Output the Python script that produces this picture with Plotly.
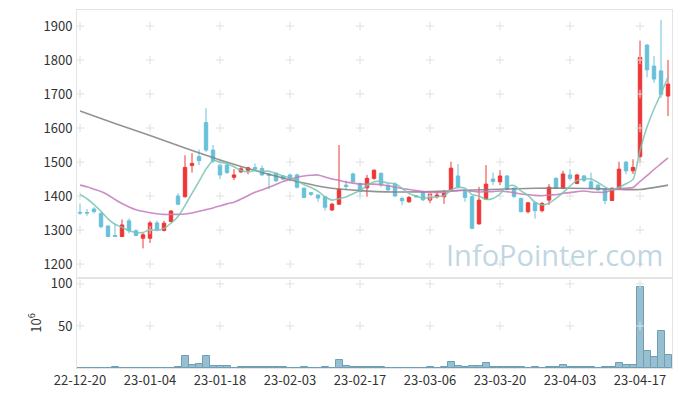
import plotly.graph_objects as go
from plotly.subplots import make_subplots

# ---------------- data ----------------
months = [
    ("22-12", [20, 21, 22, 23, 26, 27, 28, 29]),
    ("23-01", [2, 3, 4, 5, 6, 9, 10, 11, 12, 13, 16, 17, 18, 19, 20, 25, 26, 27, 30, 31]),
    ("23-02", [1, 2, 3, 6, 7, 8, 9, 10, 13, 14, 15, 16, 17, 20, 21, 22, 23, 24, 27, 28]),
    ("23-03", [2, 3, 6, 7, 8, 9, 10, 13, 14, 15, 16, 17, 20, 21, 22, 23, 24, 27, 28, 29, 30, 31]),
    ("23-04", [3, 4, 5, 6, 7, 10, 11, 12, 13, 14, 17, 18, 19, 20, 21]),
]
dates = [f"{m}-{d:02d}" for m, days in months for d in days]

opens = [1352, 1352, 1362, 1349, 1312, 1284, 1281, 1327, 1298, 1276,
         1276, 1321, 1299, 1325, 1400, 1398, 1490, 1516, 1616, 1535,
         1491, 1491, 1455, 1471, 1476, 1484, 1481, 1465, 1467, 1459,
         1462, 1462, 1423, 1410, 1403, 1398, 1359, 1376, 1432, 1465,
         1437, 1424, 1452, 1467, 1432, 1435, 1393, 1383, 1401, 1413,
         1388, 1398, 1398, 1418, 1459, 1413, 1398, 1318, 1391, 1450,
         1442, 1459, 1423, 1393, 1354, 1380, 1357, 1388, 1452, 1423,
         1462, 1437, 1459, 1442, 1432, 1420, 1387, 1423, 1500, 1474,
         1516, 1844, 1782, 1768, 1694]
highs = [1378, 1362, 1367, 1352, 1313, 1318, 1331, 1334, 1302, 1291,
         1327, 1327, 1327, 1358, 1408, 1520, 1526, 1537, 1658, 1550,
         1496, 1497, 1479, 1486, 1486, 1496, 1490, 1467, 1470, 1462,
         1466, 1466, 1425, 1411, 1405, 1400, 1380, 1550, 1446, 1469,
         1440, 1462, 1478, 1469, 1434, 1440, 1398, 1400, 1403, 1415,
         1408, 1413, 1418, 1501, 1494, 1416, 1400, 1427, 1491, 1469,
         1476, 1462, 1425, 1395, 1383, 1383, 1383, 1435, 1455, 1474,
         1479, 1465, 1462, 1469, 1435, 1422, 1425, 1501, 1502, 1508,
         1857, 1846, 1812, 1918, 1800]
lows = [1345, 1342, 1349, 1305, 1280, 1280, 1280, 1290, 1282, 1246,
        1262, 1300, 1296, 1323, 1373, 1396, 1469, 1491, 1530, 1497,
        1449, 1465, 1447, 1468, 1464, 1476, 1460, 1420, 1441, 1447,
        1443, 1422, 1394, 1400, 1383, 1357, 1356, 1374, 1417, 1440,
        1396, 1398, 1448, 1426, 1415, 1398, 1373, 1380, 1396, 1385,
        1379, 1393, 1377, 1416, 1423, 1383, 1302, 1316, 1389, 1432,
        1432, 1418, 1394, 1352, 1349, 1334, 1352, 1374, 1420, 1420,
        1445, 1435, 1441, 1420, 1416, 1376, 1385, 1420, 1464, 1465,
        1498, 1749, 1733, 1688, 1635]
closes = [1350, 1350, 1354, 1310, 1281, 1281, 1315, 1298, 1284, 1286,
          1321, 1302, 1320, 1356, 1376, 1484, 1496, 1504, 1535, 1503,
          1462, 1469, 1462, 1480, 1483, 1479, 1462, 1461, 1445, 1450,
          1450, 1426, 1396, 1405, 1394, 1367, 1376, 1420, 1428, 1442,
          1413, 1452, 1476, 1433, 1418, 1400, 1386, 1396, 1398, 1389,
          1406, 1403, 1408, 1482, 1427, 1396, 1305, 1388, 1435, 1443,
          1459, 1420, 1399, 1354, 1380, 1357, 1378, 1426, 1423, 1465,
          1452, 1462, 1446, 1423, 1418, 1387, 1423, 1479, 1474, 1484,
          1808, 1771, 1744, 1699, 1729]

# moving averages
ma_short = [1405, 1392, 1375, 1355, 1333, 1317, 1308, 1298, 1293, 1293,
            1301, 1299, 1305, 1320, 1340, 1372, 1408, 1443, 1479, 1504,
            1500, 1495, 1486, 1475, 1471, 1475, 1473, 1473, 1466, 1459,
            1454, 1446, 1433, 1425, 1414, 1398, 1388, 1392, 1397, 1407,
            1416, 1431, 1442, 1443, 1438, 1436, 1423, 1407, 1400, 1394,
            1395, 1398, 1401, 1418, 1425, 1423, 1404, 1400, 1390, 1393,
            1406, 1429, 1431, 1415, 1402, 1382, 1374, 1379, 1393, 1410,
            1429, 1446, 1450, 1450, 1440, 1427, 1419, 1426, 1436, 1449,
            1534, 1603, 1656, 1701, 1750]
ma_mid = [1432, 1427, 1420, 1413, 1403, 1390, 1378, 1368, 1360, 1355,
          1351, 1348, 1346, 1346, 1346, 1347, 1350, 1355, 1360, 1365,
          1371, 1377, 1382, 1391, 1401, 1411, 1418, 1426, 1434, 1443,
          1449, 1455, 1459, 1461, 1462, 1456, 1450, 1446, 1441, 1438,
          1435, 1435, 1435, 1433, 1430, 1426, 1422, 1419, 1416, 1413,
          1411, 1410, 1411, 1414, 1416, 1417, 1414, 1412, 1413, 1413,
          1415, 1413, 1410, 1406, 1404, 1402, 1401, 1403, 1404, 1408,
          1410, 1413, 1415, 1412, 1411, 1411, 1417, 1421, 1423, 1425,
          1443, 1460, 1478, 1495, 1512]
ma_long_idx = [0, 5, 10, 15, 20, 25, 30, 35, 40, 45, 50, 55, 60, 65, 70, 75, 80, 84]
ma_long = [1650, 1613, 1578, 1541, 1506, 1475, 1448, 1426, 1416, 1412,
           1413, 1417, 1420, 1423, 1423, 1421, 1419, 1432]

volumes = [0.3, 0.3, 0.3, 0.3, 0.3, 1.2, 0.3, 0.3, 0.3, 0.3,
           0.3, 0.3, 0.3, 0.3, 1.2, 14.3, 4.0, 4.8, 14.3, 2.4,
           2.4, 2.4, 0.3, 1.2, 1.2, 1.2, 1.2, 1.2, 1.2, 1.2,
           0.3, 0.3, 1.2, 0.3, 0.3, 1.2, 0.3, 9.5, 2.4, 1.2,
           1.2, 1.2, 1.2, 1.2, 0.3, 0.3, 0.3, 0.3, 0.3, 0.3,
           1.2, 0.3, 1.2, 7.1, 2.4, 1.2, 2.4, 2.4, 6.0, 1.2,
           1.2, 1.2, 1.2, 1.2, 0.3, 1.2, 0.3, 1.2, 1.2, 3.6,
           1.2, 1.2, 1.2, 1.2, 0.3, 1.2, 1.2, 6.0, 3.6, 3.6,
           96.8, 20.6, 13.5, 44.4, 15.9]

price_ticks = [1200, 1300, 1400, 1500, 1600, 1700, 1800, 1900]
vol_ticks = [50, 100]
date_ticks = dates[::10]

# ---------------- styles ----------------
RED = "#EE3636"
BLUE = "#68C1D9"
GREEN = "rgba(120,196,178,0.85)"
PINK = "rgba(196,120,184,0.85)"
GREY = "rgba(128,128,128,0.85)"
FRAME = "#E4E4E4"
FONT = "Noto Sans CJK KR"

fig = make_subplots(rows=2, cols=1, shared_xaxes=True, vertical_spacing=0,
                    row_heights=[268, 90])

# grid crosses
cross = dict(symbol="cross-thin", size=6, line=dict(color="#E0E0E0", width=1))
cx = [d for d in date_ticks for _ in price_ticks]
cy = [p for _ in date_ticks for p in price_ticks]
fig.add_trace(go.Scatter(x=cx, y=cy, mode="markers", hoverinfo="skip", showlegend=False,
                         marker=cross), row=1, col=1)
vx = [d for d in date_ticks for _ in vol_ticks]
vy = [v for _ in date_ticks for v in vol_ticks]
fig.add_trace(go.Scatter(x=vx, y=vy, mode="markers", hoverinfo="skip", showlegend=False,
                         marker=cross), row=2, col=1)

fig.add_trace(go.Candlestick(
    x=dates, open=opens, high=highs, low=lows, close=closes,
    increasing=dict(line=dict(color=RED, width=1), fillcolor=RED),
    decreasing=dict(line=dict(color=BLUE, width=1), fillcolor=BLUE),
    whiskerwidth=0, showlegend=False, hoverinfo="skip"), row=1, col=1)

fig.add_trace(go.Scatter(x=[dates[i] for i in ma_long_idx], y=ma_long, mode="lines",
                         line=dict(color=GREY, width=1.6, shape="spline", smoothing=0.6),
                         hoverinfo="skip", showlegend=False), row=1, col=1)
fig.add_trace(go.Scatter(x=dates, y=ma_mid, mode="lines",
                         line=dict(color=PINK, width=1.6, shape="spline", smoothing=0.6),
                         hoverinfo="skip", showlegend=False), row=1, col=1)
fig.add_trace(go.Scatter(x=dates, y=ma_short, mode="lines",
                         line=dict(color=GREEN, width=1.6, shape="spline", smoothing=0.6),
                         hoverinfo="skip", showlegend=False), row=1, col=1)

fig.add_trace(go.Bar(x=dates, y=volumes, marker=dict(color="#98BFD0",
                     line=dict(color="#6E9FB6", width=1)),
                     hoverinfo="skip", showlegend=False), row=2, col=1)

xr = [-0.43, 84.57]
common_x = dict(type="category", range=xr, autorange=False, showgrid=False, zeroline=False,
                showline=True, mirror=True, linecolor=FRAME, linewidth=1,
                categoryorder="array", categoryarray=dates, automargin=False)
fig.update_xaxes(**common_x, showticklabels=False, rangeslider=dict(visible=False), row=1, col=1)
fig.update_xaxes(**common_x, tickmode="array", tickvals=date_ticks, ticktext=date_ticks,
                 showticklabels=True, ticks="", tickfont=dict(size=13, color="#333"),
                 row=2, col=1)
fig.update_yaxes(range=[1159, 1947], autorange=False, tickmode="array", tickvals=price_ticks,
                 showgrid=False, zeroline=False, showline=True, mirror=True,
                 linecolor=FRAME, ticks="", ticklabelstandoff=1, automargin=False,
                 tickfont=dict(size=13, color="#333"), row=1, col=1)
fig.update_yaxes(range=[0, 107], autorange=False, tickmode="array", tickvals=vol_ticks,
                 showgrid=False, zeroline=False, showline=True, mirror=True,
                 linecolor=FRAME, ticks="", ticklabelstandoff=1, automargin=False,
                 tickfont=dict(size=13, color="#333"),
                 title=dict(text="10<sup>6</sup>", font=dict(size=13, color="#333"), standoff=6),
                 row=2, col=1)

fig.add_annotation(text="InfoPointer.com", xref="paper", yref="paper",
                   x=0.803, y=0.318, xanchor="center", yanchor="middle", showarrow=False,
                   font=dict(family="Open Sans", size=29, color="rgba(168,198,214,0.72)"))

fig.update_layout(width=680, height=396, margin=dict(l=77, r=8, t=10, b=28, autoexpand=False),
                  paper_bgcolor="white", plot_bgcolor="white", bargap=0,
                  font=dict(family=FONT, color="#333"), showlegend=False)

fig.write_html("out.html", config={"displayModeBar": False},
               post_script="document.body.style.margin='0';")
